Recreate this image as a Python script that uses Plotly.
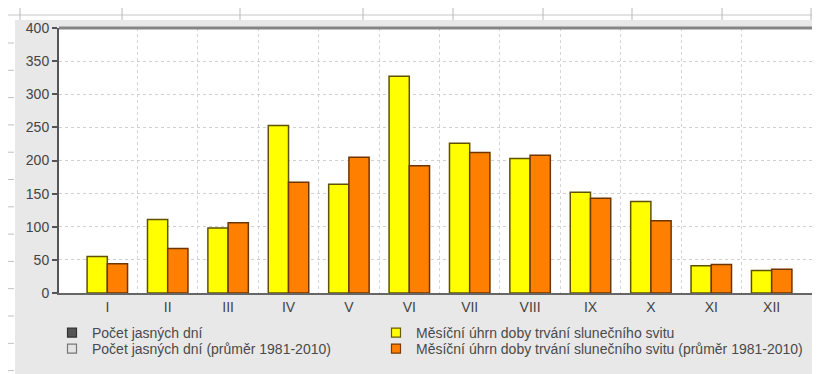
import plotly.graph_objects as go

months = ["I", "II", "III", "IV", "V", "VI", "VII", "VIII", "IX", "X", "XI", "XII"]
sunshine = [55, 111, 98, 253, 164, 327, 226, 203, 152, 138, 41, 34]
sunshine_avg = [44, 67, 106, 167, 205, 192, 212, 208, 143, 109, 43, 36]

name_clear = "Počet jasných dní"
name_clear_avg = "Počet jasných dní (průměr 1981-2010)"
name_sun = "Měsíční úhrn doby trvání slunečního svitu"
name_sun_avg = "Měsíční úhrn doby trvání slunečního svitu (průměr 1981-2010)"

# the page body adds an 8px offset; the figure fills the rest of the window
OFF = 8
W, H = 820 - OFF, 374 - OFF
ML, MR, MT, MB = 59 - OFF, 0, 28 - OFF, 81
PW, PH = W - ML - MR, H - MT - MB


def px_x(sx):
    return (sx - OFF - ML) / PW


def px_y(sy):
    return (H - MB - (sy - OFF)) / PH


FONT = "Liberation Sans, Arial, sans-serif"
TXT = "#444444"

xs = list(range(len(months)))

fig = go.Figure()
fig.add_trace(go.Bar(x=xs, y=sunshine, name=name_sun, showlegend=False, legendgroup="sun",
                     marker=dict(color="#ffff00", line=dict(color="#5e5200", width=1.5))))
fig.add_trace(go.Bar(x=xs, y=sunshine_avg, name=name_sun_avg, showlegend=False, legendgroup="sunavg",
                     marker=dict(color="#ff8000", line=dict(color="#6e3500", width=1.5))))

legend_items = [
    (name_clear, "#555555", "#333333", "legend", None),
    (name_clear_avg, "#e4e4e4", "#777777", "legend2", None),
    (name_sun, "#ffff00", "#6b5a00", "legend3", "sun"),
    (name_sun_avg, "#ff8000", "#7a3b00", "legend4", "sunavg"),
]
for nm, fc, lc, lg, grp in legend_items:
    fig.add_trace(go.Scatter(x=[None], y=[None], mode="markers", name=nm, legend=lg,
                             legendgroup=grp, hoverinfo="skip",
                             marker=dict(symbol="square", size=9, color=fc, line=dict(color=lc, width=1.2))))

row1, row2 = px_y(333), px_y(349)
col1, col2 = px_x(52), px_x(376)
legfont = dict(family=FONT, size=14, color="#4a4a4a")
legbase = dict(bgcolor="rgba(0,0,0,0)", font=legfont, xanchor="left", yanchor="middle",
               itemclick=False, itemdoubleclick=False)

shapes = []
# white page strip at the top and on the left
shapes.append(dict(type="rect", xref="paper", yref="paper", x0=-0.2, x1=1.2, y0=px_y(20), y1=px_y(-10),
                   fillcolor="white", line=dict(width=0), layer="below"))
shapes.append(dict(type="rect", xref="paper", yref="paper", x0=-0.2, x1=px_x(15), y0=px_y(400), y1=px_y(-10),
                   fillcolor="white", line=dict(width=0), layer="below"))
shapes.append(dict(type="line", xref="paper", yref="paper", x0=px_x(8), x1=px_x(822), y0=px_y(15), y1=px_y(15),
                   line=dict(color="#c8c8c8", width=1), layer="below"))
for tx in [20, 122, 240, 363, 453, 543, 632, 722, 811]:
    shapes.append(dict(type="line", xref="paper", yref="paper", x0=px_x(tx), x1=px_x(tx), y0=px_y(8), y1=px_y(20),
                       line=dict(color="#b8b8b8", width=1), layer="below"))
for k in range(13):
    ty = 43 + 27.3 * k
    shapes.append(dict(type="line", xref="paper", yref="paper", x0=px_x(8), x1=px_x(14), y0=px_y(ty), y1=px_y(ty),
                       line=dict(color="#c0c0c0", width=1), layer="below"))
# top border of the plot
shapes.append(dict(type="line", xref="paper", yref="paper", x0=0, x1=1, y0=1, y1=1,
                   line=dict(color="#858585", width=3)))

fig.update_layout(
    width=W, height=H,
    margin=dict(l=ML, r=MR, t=MT, b=MB, pad=0),
    paper_bgcolor="#e8e8e8", plot_bgcolor="white",
    font=dict(family=FONT, size=13, color=TXT),
    barmode="group", bargap=0.33, bargroupgap=0,
    legend=dict(x=col1, y=row1, **legbase),
    legend2=dict(x=col1, y=row2, **legbase),
    legend3=dict(x=col2, y=row1, **legbase),
    legend4=dict(x=col2, y=row2, **legbase),
    shapes=shapes,
    xaxis=dict(range=[-0.8, 11.8], tickvals=xs, ticktext=months, showgrid=False, zeroline=False,
               showline=True, linecolor="#666666", linewidth=1.5, ticks="",
               tickfont=dict(family=FONT, size=14, color=TXT),
               minor=dict(tickvals=[i + 0.5 for i in range(11)], showgrid=True, gridcolor="#d4d4d4",
                          griddash="dot", gridwidth=1, ticks="")),
    yaxis=dict(range=[0, 400], dtick=50, showgrid=True, gridcolor="#cfcfcf", griddash="dot", gridwidth=1,
               zeroline=False, showline=True, linecolor="#555555", linewidth=2,
               ticks="outside", ticklen=5, tickcolor="#555555", tickwidth=1.5,
               tickfont=dict(family=FONT, size=14, color=TXT)),
)

fig.write_html("out.html")
